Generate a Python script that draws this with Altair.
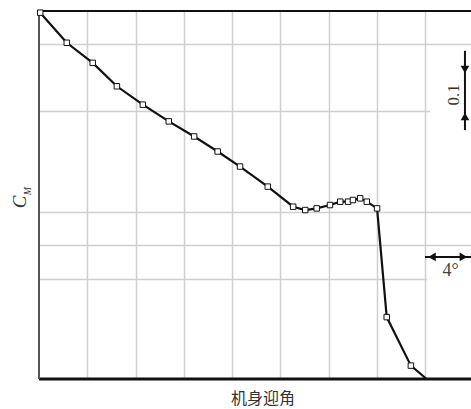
import altair as alt
import pandas as pd

# ---- data (x: body angle of attack in degrees, y: C_M in chart units) ----
alpha_deg = [0.1, 2.3, 4.45, 6.45, 8.6, 10.75, 12.85, 14.8, 16.65, 18.95, 21.05, 22.05,
             23.0, 24.1, 24.95, 25.6, 26.0, 26.6, 27.15, 28.0, 28.8, 30.8, 32.1]
cm_vals = [10.95, 10.05, 9.45, 8.75, 8.2, 7.7, 7.25, 6.8, 6.35, 5.75, 5.15, 5.05,
           5.1, 5.2, 5.3, 5.3, 5.35, 5.4, 5.3, 5.1, 1.85, 0.4, 0.0]
has_marker = [True] * 22 + [False]

x_grid = [4, 8, 12, 16, 20, 24, 28, 32]
y_grid = [3, 4, 5, 8, 10]

W, H = 432, 368
X_MAX = 35.78
Y_MAX = 11.0

df = pd.DataFrame({"alpha": alpha_deg, "cm": cm_vals, "marker": has_marker,
                   "order": list(range(len(alpha_deg)))})

xs = alt.Scale(domain=[0, X_MAX], nice=False, zero=False)
ys = alt.Scale(domain=[0, Y_MAX], nice=False, zero=False)

x_axis = alt.Axis(values=x_grid, grid=True, labels=False, ticks=False, domain=False,
                  title=None, gridColor="#cfcfcf", gridWidth=1.5)
y_axis = alt.Axis(values=y_grid, grid=True, labels=False, ticks=False, domain=False,
                  title=None, gridColor="#cfcfcf", gridWidth=1.5)

line = alt.Chart(df).mark_line(color="#111111", strokeWidth=2.2).encode(
    x=alt.X("alpha:Q", scale=xs, axis=x_axis),
    y=alt.Y("cm:Q", scale=ys, axis=y_axis),
    order="order:Q",
)

pts = alt.Chart(df[df["marker"]]).mark_point(
    shape="square", filled=True, fill="white", stroke="#111111", strokeWidth=1, size=30, opacity=1
).encode(
    x=alt.X("alpha:Q", scale=xs),
    y=alt.Y("cm:Q", scale=ys),
)

# white boxes behind annotation text
boxes = pd.DataFrame({"x1": [32.4, 32.15], "x2": [X_MAX, X_MAX],
                      "y1": [7.65, 2.6], "y2": [9.0, 3.5]})
box_layer = alt.Chart(boxes).mark_rect(color="white").encode(
    x=alt.X("x1:Q", scale=xs), x2="x2:Q",
    y=alt.Y("y1:Q", scale=ys), y2="y2:Q",
)

# frame lines
dummy = alt.Data(values=[{}])
top_rule = alt.Chart(dummy).mark_rule(color="#111111", strokeWidth=2).encode(
    x=alt.value(0), x2=alt.value(W), y=alt.value(0))
bottom_rule = alt.Chart(dummy).mark_rule(color="#111111", strokeWidth=3).encode(
    x=alt.value(0), x2=alt.value(W), y=alt.value(H))
left_rule = alt.Chart(dummy).mark_rule(color="#555555", strokeWidth=2).encode(
    x=alt.value(0), y=alt.value(0), y2=alt.value(H))

# dimension arrows
v_arrow = pd.DataFrame({"x": [35.28], "y1": [7.44], "y2": [9.81]})
v_line = alt.Chart(v_arrow).mark_rule(color="#111111", strokeWidth=2).encode(
    x=alt.X("x:Q", scale=xs), y=alt.Y("y1:Q", scale=ys), y2="y2:Q")
h_arrow = pd.DataFrame({"x1": [31.97], "x2": [X_MAX], "y": [3.65]})
h_line = alt.Chart(h_arrow).mark_rule(color="#111111", strokeWidth=2).encode(
    x=alt.X("x1:Q", scale=xs), x2="x2:Q", y=alt.Y("y:Q", scale=ys))

heads = pd.DataFrame({
    "x": [35.28, 35.28, 32.55, 35.15],
    "y": [9.25, 7.85, 3.65, 3.65],
    "shape": ["triangle-down", "triangle-up", "triangle-left", "triangle-right"],
})
head_layer = alt.Chart(heads).mark_point(filled=True, color="#111111", size=75, opacity=1).encode(
    x=alt.X("x:Q", scale=xs), y=alt.Y("y:Q", scale=ys),
    shape=alt.Shape("shape:N", scale=None),
)

t01 = alt.Chart(pd.DataFrame({"x": [34.37], "y": [8.49], "t": ["0.1"]})).mark_text(
    angle=270, font="Liberation Serif", fontSize=17, color="#333333",
    align="center", baseline="middle"
).encode(x=alt.X("x:Q", scale=xs), y=alt.Y("y:Q", scale=ys), text="t:N")

t4 = alt.Chart(pd.DataFrame({"x": [34.1], "y": [3.22], "t": ["4°"]})).mark_text(
    font="Liberation Serif", fontSize=18, color="#444444",
    align="center", baseline="middle"
).encode(x=alt.X("x:Q", scale=xs), y=alt.Y("y:Q", scale=ys), text="t:N")

# axis titles
x_title = alt.Chart(dummy).mark_text(
    text="机身迎角", font="Noto Sans CJK SC", fontSize=16, color="#333333",
    align="center", baseline="middle"
).encode(x=alt.value(224), y=alt.value(388))
c_title = alt.Chart(dummy).mark_text(
    text="C", font="Liberation Serif", fontSize=19, fontStyle="italic", color="#333333", angle=270,
    align="center", baseline="middle"
).encode(x=alt.value(-19), y=alt.value(191))
m_title = alt.Chart(dummy).mark_text(
    text="M", font="Liberation Serif", fontSize=10, fontStyle="italic", color="#333333", angle=270,
    align="center", baseline="middle"
).encode(x=alt.value(-11), y=alt.value(180))

chart = alt.layer(
    line, box_layer, top_rule, bottom_rule, left_rule, pts,
    v_line, h_line, head_layer, t01, t4, x_title, c_title, m_title
).properties(
    width=W, height=H,
    autosize=alt.AutoSizeParams(type="none"),
    padding={"left": 39, "top": 11, "right": 0, "bottom": 30},
    background="white",
).configure_view(stroke=None)

chart.save("out.html", embed_options={"renderer": "svg", "actions": False})
